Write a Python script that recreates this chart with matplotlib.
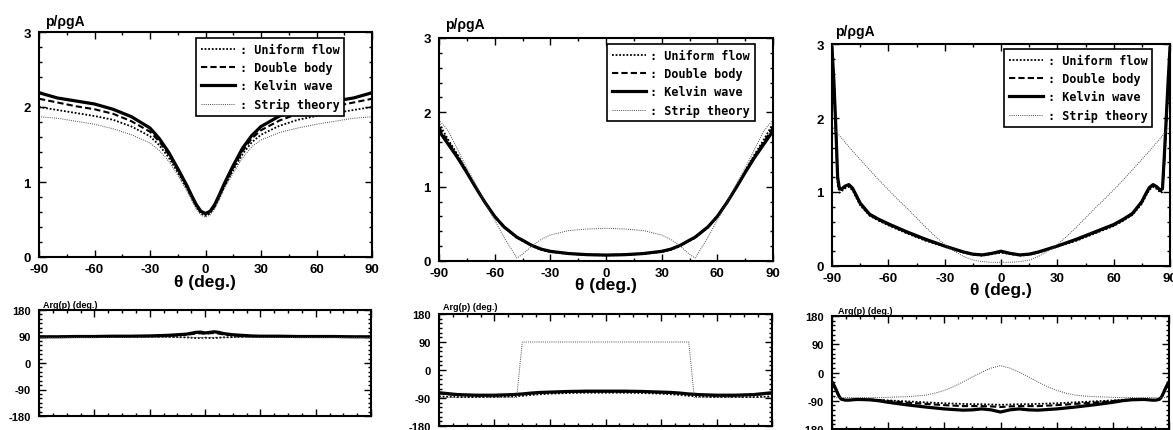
import numpy as np
import matplotlib
matplotlib.use('Agg')
import matplotlib.pyplot as plt
from matplotlib.ticker import MultipleLocator

plt.rcParams['font.family'] = ['Liberation Sans', 'DejaVu Sans']
plt.rcParams['font.weight'] = 'bold'
plt.rcParams['axes.unicode_minus'] = False

# ---- panel 1 (left) ----
th_a = [-90, -80, -70, -60, -50, -40, -30, -25, -20, -15, -10, -7.5, -5, -2.5, 0,
        2.5, 5, 7.5, 10, 15, 20, 25, 30, 40, 50, 60, 70, 80, 90]
kelvin_a = [2.19, 2.12, 2.08, 2.04, 1.97, 1.87, 1.72, 1.58, 1.40, 1.18, 0.95, 0.82, 0.70, 0.61, 0.58,
            0.61, 0.70, 0.83, 0.97, 1.22, 1.45, 1.62, 1.74, 1.88, 1.97, 2.03, 2.08, 2.12, 2.19]
double_a = [2.11, 2.06, 2.01, 1.97, 1.91, 1.81, 1.67, 1.54, 1.37, 1.16, 0.93, 0.80, 0.68, 0.60, 0.57,
            0.60, 0.68, 0.81, 0.95, 1.19, 1.41, 1.58, 1.69, 1.82, 1.91, 1.97, 2.01, 2.06, 2.11]
uniform_a = [2.00, 1.96, 1.92, 1.88, 1.83, 1.74, 1.61, 1.49, 1.33, 1.13, 0.91, 0.79, 0.67, 0.58, 0.55,
             0.58, 0.67, 0.79, 0.93, 1.16, 1.37, 1.53, 1.63, 1.75, 1.83, 1.88, 1.92, 1.96, 2.00]
strip_a = [1.87, 1.85, 1.81, 1.77, 1.71, 1.63, 1.52, 1.42, 1.28, 1.09, 0.88, 0.76, 0.64, 0.56, 0.53,
           0.56, 0.64, 0.77, 0.90, 1.12, 1.32, 1.47, 1.56, 1.66, 1.72, 1.77, 1.81, 1.85, 1.87]
kelvin_a_arg = [89, 89, 90, 90, 91, 91, 92, 93, 94, 96, 98, 101, 104, 105, 102,
                104, 106, 104, 100, 96, 94, 92, 91, 91, 90, 90, 90, 89, 89]
double_a_arg = [89, 89, 90, 90, 90, 91, 91, 92, 93, 94, 96, 98, 100, 101, 99,
                101, 102, 100, 97, 94, 92, 91, 91, 90, 90, 90, 90, 89, 89]
uniform_a_arg = [88, 88, 89, 89, 89, 89, 89, 89, 89, 88, 87, 86, 85, 85, 86,
                 85, 85, 86, 87, 88, 89, 89, 89, 89, 89, 89, 89, 88, 88]
strip_a_arg = [90, 90, 90, 90, 90, 90, 90, 90, 90, 90, 90, 90, 90, 90, 90,
               90, 90, 90, 90, 90, 90, 90, 90, 90, 90, 90, 90, 90, 90]

# ---- panel 2 (middle) ----
th_b = [-90, -85, -80, -75, -70, -65, -60, -55, -50, -48, -45, -40, -35, -30, -20, -10, 0,
        10, 20, 30, 35, 40, 45, 48, 50, 55, 60, 65, 70, 75, 80, 85, 90]
kelvin_b = [1.75, 1.57, 1.39, 1.19, 0.98, 0.78, 0.60, 0.46, 0.36, 0.32, 0.28, 0.21, 0.16, 0.13, 0.10, 0.085, 0.08,
            0.085, 0.10, 0.13, 0.16, 0.21, 0.28, 0.32, 0.36, 0.46, 0.60, 0.78, 0.98, 1.19, 1.39, 1.57, 1.75]
double_b = [1.80, 1.60, 1.41, 1.20, 0.98, 0.78, 0.60, 0.46, 0.36, 0.32, 0.28, 0.21, 0.16, 0.13, 0.10, 0.085, 0.08,
            0.085, 0.10, 0.13, 0.16, 0.21, 0.28, 0.32, 0.36, 0.46, 0.60, 0.78, 0.98, 1.20, 1.41, 1.60, 1.80]
uniform_b = [1.85, 1.63, 1.43, 1.21, 0.99, 0.78, 0.60, 0.45, 0.35, 0.31, 0.27, 0.20, 0.15, 0.12, 0.095, 0.08, 0.075,
             0.08, 0.095, 0.12, 0.15, 0.20, 0.27, 0.31, 0.35, 0.45, 0.60, 0.78, 0.99, 1.21, 1.43, 1.63, 1.85]
strip_b = [1.90, 1.75, 1.50, 1.25, 1.02, 0.78, 0.55, 0.32, 0.12, 0.04, 0.09, 0.20, 0.29, 0.35, 0.41, 0.43, 0.44,
           0.43, 0.41, 0.35, 0.29, 0.20, 0.09, 0.04, 0.12, 0.32, 0.55, 0.78, 1.02, 1.25, 1.50, 1.75, 1.90]
kelvin_b_arg = [-73, -76, -79, -80, -81, -81, -81, -80, -79, -78, -77, -74, -72, -71, -69, -68, -68,
                -68, -69, -71, -72, -74, -77, -78, -79, -80, -81, -81, -81, -80, -79, -76, -73]
double_b_arg = [-75, -78, -80, -81, -82, -82, -82, -81, -80, -79, -78, -75, -73, -72, -70, -69, -69,
                -69, -70, -72, -73, -75, -78, -79, -80, -81, -82, -82, -82, -81, -80, -78, -75]
uniform_b_arg = [-85, -86, -87, -87, -87, -87, -87, -86, -85, -84, -83, -80, -78, -76, -74, -73, -73,
                 -73, -74, -76, -78, -80, -83, -84, -85, -86, -87, -87, -87, -87, -87, -86, -85]
strip_b_arg = [-88, -88, -88, -88, -88, -88, -88, -88, -88, -88, 90, 90, 90, 90, 90, 90, 90,
               90, 90, 90, 90, 90, 90, -88, -88, -88, -88, -88, -88, -88, -88, -88, -88]

# ---- panel 3 (right) ----
th_c = [-90, -89, -88, -87, -86, -85, -83, -81, -79, -77, -75, -70, -65, -60, -50, -40, -30, -20, -15, -10, -5, 0,
        5, 10, 15, 20, 30, 40, 50, 60, 65, 70, 75, 77, 79, 81, 83, 85, 86, 87, 88, 89, 90]
kelvin_c = [2.95, 2.5, 1.9, 1.2, 1.04, 1.04, 1.08, 1.10, 1.05, 0.95, 0.85, 0.70, 0.63, 0.57, 0.46, 0.36, 0.27,
            0.19, 0.16, 0.15, 0.17, 0.20,
            0.17, 0.15, 0.16, 0.19, 0.27, 0.36, 0.46, 0.56, 0.63, 0.71, 0.87, 0.97, 1.06, 1.10, 1.07, 1.02,
            1.05, 1.5, 2.0, 2.5, 2.95]
double_c = [2.9, 2.45, 1.85, 1.15, 1.02, 1.03, 1.07, 1.09, 1.04, 0.94, 0.84, 0.69, 0.62, 0.56, 0.45, 0.35, 0.27,
            0.19, 0.16, 0.15, 0.17, 0.19,
            0.17, 0.15, 0.16, 0.19, 0.27, 0.35, 0.45, 0.55, 0.62, 0.70, 0.86, 0.96, 1.05, 1.09, 1.06, 1.01,
            1.03, 1.45, 1.95, 2.45, 2.9]
uniform_c = [2.85, 2.4, 1.8, 1.1, 0.99, 1.01, 1.05, 1.07, 1.02, 0.92, 0.82, 0.68, 0.61, 0.55, 0.44, 0.34, 0.26,
             0.18, 0.15, 0.14, 0.16, 0.18,
             0.16, 0.14, 0.15, 0.18, 0.26, 0.34, 0.44, 0.54, 0.61, 0.69, 0.84, 0.94, 1.03, 1.07, 1.04, 0.99,
             1.0, 1.4, 1.9, 2.4, 2.85]
kelvin_c_arg = [-30, -40, -52, -66, -78, -85, -88, -88, -87, -86, -86, -87, -90, -95, -103, -110, -116,
                -120, -119, -116, -119, -126,
                -119, -116, -119, -120, -116, -110, -103, -95, -90, -87, -86, -86, -87, -88, -88, -85,
                -78, -66, -52, -40, -30]
double_c_arg = [-30, -40, -52, -66, -78, -85, -88, -88, -87, -86, -86, -86, -88, -91, -96, -100, -104,
                -107, -107, -107, -108, -110,
                -108, -107, -107, -107, -104, -100, -96, -91, -88, -86, -86, -86, -87, -88, -88, -85,
                -78, -66, -52, -40, -30]
uniform_c_arg = [-32, -42, -55, -68, -80, -86, -88, -88, -87, -86, -86, -86, -87, -89, -92, -95, -98,
                 -100, -101, -101, -102, -103,
                 -102, -101, -101, -100, -98, -95, -92, -89, -87, -86, -86, -86, -87, -88, -88, -86,
                 -80, -68, -55, -42, -32]
# strip theory in panel 3 read on its own, coarser grid
th_c_strip = [-90, -85, -80, -75, -70, -65, -60, -55, -50, -45, -40, -35, -30, -25, -20, -15, -10, -5, 0,
              5, 10, 15, 20, 25, 30, 35, 40, 45, 50, 55, 60, 65, 70, 75, 80, 85, 90]
strip_c = [1.89, 1.73, 1.58, 1.44, 1.30, 1.16, 1.03, 0.90, 0.78, 0.65, 0.52, 0.40, 0.29, 0.20, 0.13, 0.08,
           0.06, 0.05, 0.05,
           0.05, 0.06, 0.08, 0.13, 0.20, 0.29, 0.40, 0.52, 0.65, 0.78, 0.90, 1.03, 1.16, 1.30, 1.44, 1.58,
           1.73, 1.89]
strip_c_arg = [-80, -80, -80, -80, -80, -80, -79, -78, -77, -75, -72, -66, -57, -45, -30, -14, 1, 14, 22,
               14, 1, -14, -30, -45, -57, -66, -72, -75, -77, -78, -79, -80, -80, -80, -80, -80, -80]

labels = [': Uniform flow', ': Double body', ': Kelvin wave', ': Strip theory']
styles = [dict(ls=(0, (1, 1)), lw=1.3, color='black'),
          dict(ls=(0, (3, 1.5)), lw=1.5, color='black'),
          dict(ls='-', lw=2.3, color='black'),
          dict(ls=(0, (1, 1.2)), lw=0.7, color='0.3')]

W, H = 1173, 431
fig = plt.figure(figsize=(W / 100, H / 100), dpi=100)


def px_axes(x0, x1, y0, y1):
    return fig.add_axes([x0 / W, 1 - y1 / H, (x1 - x0) / W, (y1 - y0) / H])


def style_axes(ax):
    for s in ax.spines.values():
        s.set_linewidth(1.5)
    ax.tick_params(which='both', direction='in', top=True, right=True, width=1)
    ax.tick_params(which='major', length=5, labelsize=9.5)
    ax.tick_params(which='minor', length=2.5)
    ax.tick_params(axis='y', which='major', pad=6)
    ax.tick_params(axis='x', which='major', pad=4.5)


panels = [
    dict(th=th_a, th_s=th_a, top=[uniform_a, double_a, kelvin_a, strip_a],
         bot=[uniform_a_arg, double_a_arg, kelvin_a_arg, strip_a_arg],
         top_box=(39, 372, 33, 258), bot_box=(39, 371, 311, 417),
         leg=(0.916, 0.973), ylab=(45, 22), xlab=(205, 283), alab=(43, 305)),
    dict(th=th_b, th_s=th_b, top=[uniform_b, double_b, kelvin_b, strip_b],
         bot=[uniform_b_arg, double_b_arg, kelvin_b_arg, strip_b_arg],
         top_box=(439, 773, 39, 262), bot_box=(439, 772, 315, 427),
         leg=(0.946, 0.973), ylab=(445, 25), xlab=(606, 286), alab=(443, 308)),
    dict(th=th_c, th_s=th_c_strip, top=[uniform_c, double_c, kelvin_c, strip_c],
         bot=[uniform_c_arg, double_c_arg, kelvin_c_arg, strip_c_arg],
         top_box=(832, 1170, 45, 267), bot_box=(832, 1169, 317, 430),
         leg=(0.947, 0.977), ylab=(835, 32), xlab=(1001, 291), alab=(838, 312)),
]

for p in panels:
    ax = px_axes(*p['top_box'])
    for i, (y, lab, st) in enumerate(zip(p['top'], labels, styles)):
        xs = p['th_s'] if i == 3 else p['th']
        ax.plot(xs, y, label=lab, **st)
    ax.set_xlim(-90, 90)
    ax.set_ylim(0, 3)
    ax.xaxis.set_major_locator(MultipleLocator(30))
    ax.xaxis.set_minor_locator(MultipleLocator(15))
    ax.yaxis.set_major_locator(MultipleLocator(1))
    ax.yaxis.set_minor_locator(MultipleLocator(0.2))
    style_axes(ax)
    leg = ax.legend(loc='upper right', bbox_to_anchor=p['leg'], borderaxespad=0,
                    prop=dict(family='DejaVu Sans Mono', weight='bold', size=8.5),
                    handlelength=2.9, handletextpad=0.4, fancybox=False,
                    framealpha=1, edgecolor='black', labelspacing=0.45)
    leg.get_frame().set_linewidth(1.2)
    fig.text(p['ylab'][0] / W, 1 - p['ylab'][1] / H, 'p/ρgA', fontsize=10,
             fontweight='bold', va='center', ha='left')
    fig.text(p['xlab'][0] / W, 1 - p['xlab'][1] / H, 'θ (deg.)', fontsize=12.5,
             fontweight='bold', va='center', ha='center')

    axb = px_axes(*p['bot_box'])
    for i, (y, st) in enumerate(zip(p['bot'], styles)):
        xs = p['th_s'] if i == 3 else p['th']
        axb.plot(xs, y, **st)
    axb.set_xlim(-90, 90)
    axb.set_ylim(-180, 180)
    axb.xaxis.set_major_locator(MultipleLocator(30))
    axb.xaxis.set_minor_locator(MultipleLocator(7.5))
    axb.yaxis.set_major_locator(MultipleLocator(90))
    axb.yaxis.set_minor_locator(MultipleLocator(15))
    style_axes(axb)
    axb.tick_params(labelbottom=False, labelsize=8)
    fig.text(p['alab'][0] / W, 1 - p['alab'][1] / H, 'Arg(p) (deg.)', fontsize=6.5,
             fontweight='bold', va='center', ha='left')

fig.savefig('out.png', dpi=100)
